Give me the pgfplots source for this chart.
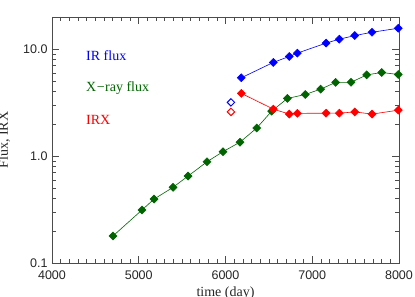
\documentclass[border=0pt]{standalone}
\usepackage{fontspec}
\setmainfont{Liberation Serif}
\newfontfamily\ticksans{Liberation Sans}
\usepackage{pgfplots}
\pgfplotsset{compat=1.18}
\definecolor{irblue}{RGB}{0,0,255}
\definecolor{xgreen}{RGB}{0,100,0}
\definecolor{irxred}{RGB}{255,0,0}
\begin{document}
\begin{tikzpicture}
\begin{axis}[
  at={(0,0)}, anchor=south west,
  scale only axis, width=347pt, height=246pt,
  xmin=4000, xmax=8000, ymode=log, ymin=0.1, ymax=20,
  xtick={4000,5000,6000,7000,8000},
  minor x tick num=9,
  ytick={0.1,1,10},
  yticklabels={0.1,1.0,10.0},
  /pgf/number format/assume math mode=true,
  /pgf/number format/1000 sep={},
  tick label style={font=\ticksans\fontsize{12.5}{14}\selectfont, text=black!85},
  xticklabel style={yshift=-4pt},
  yticklabel style={xshift=-1pt},
  tick align=inside, ticks=both,
  major tick length=7pt, minor tick length=4pt,
  axis line style={black!70, line width=0.6pt},
  every tick/.style={black!70, line width=0.6pt},
  xlabel={time (day)}, ylabel={Flux, IRX},
  label style={font=\fontsize{14}{16}\selectfont, text=black!85},
  xlabel style={at={(axis description cs:0.5,-0.0976)}, anchor=north, inner sep=0pt},
  ylabel style={at={(axis description cs:-0.1268,0.5)}, anchor=base, inner sep=0pt},
  clip=false,
]
% X-ray flux
\addplot[color=xgreen, line width=0.6pt, mark=square*, mark size=2.8pt, mark options={fill=xgreen, rotate=45}] coordinates {
(4703,0.179) (5037,0.313) (5176,0.396) (5395,0.51) (5568,0.65) (5787,0.885) (5971,1.10) (6167,1.35) (6360,1.83) (6532,2.63) (6713,3.46) (6920,3.77) (7097,4.23) (7270,4.89) (7447,4.90) (7628,5.75) (7800,6.05) (7992,5.80)
};
% IR flux
\addplot[color=irblue, line width=0.6pt, mark=square*, mark size=2.8pt, mark options={fill=irblue, rotate=45}] coordinates {
(6182,5.40) (6551,7.52) (6735,8.55) (6828,9.18) (7159,11.4) (7312,12.4) (7490,13.4) (7689,14.4) (7992,15.7)
};
% IRX
\addplot[color=irxred, line width=0.6pt, mark=square*, mark size=2.8pt, mark options={fill=irxred, rotate=45}] coordinates {
(6182,3.86) (6551,2.75) (6735,2.47) (6828,2.51) (7159,2.52) (7312,2.52) (7490,2.59) (7689,2.47) (7992,2.69)
};
% open markers
\addplot[only marks, color=irblue, line width=1pt, mark=square, mark size=2.6pt, mark options={rotate=45}] coordinates {(6063,3.18)};
\addplot[only marks, color=irxred, line width=1pt, mark=square, mark size=2.6pt, mark options={rotate=45}] coordinates {(6063,2.59)};
\node[anchor=west, text=irblue, font=\fontsize{14}{16}\selectfont, inner sep=0pt] at (axis cs:4392,8.79) {IR flux};
\node[anchor=west, text=xgreen, font=\fontsize{14}{16}\selectfont, inner sep=0pt] at (axis cs:4392,4.33) {X\kern0.5pt{\char"2212}\kern0.5pt ray flux};
\node[anchor=west, text=irxred, font=\fontsize{14}{16}\selectfont, inner sep=0pt] at (axis cs:4392,2.17) {IRX};
\end{axis}
\pgfresetboundingbox
\useasboundingbox (-52pt,-34pt) rectangle (363pt,263pt);
\end{tikzpicture}
\end{document}
